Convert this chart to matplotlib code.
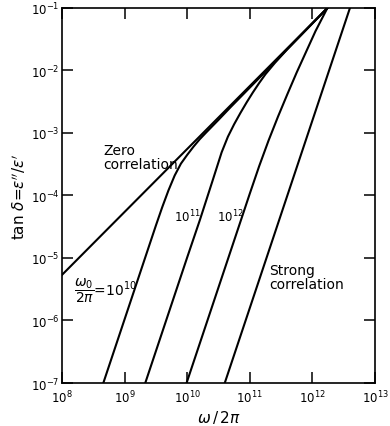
import numpy as np
import matplotlib
matplotlib.use("Agg")
import matplotlib.pyplot as plt

# in decades (log10 of omega/2pi, log10 of tan delta)
zero_f = [8.0, 12.24]
zero_tan = [-5.27, -1.0]

strong_f = [10.60, 12.60]
strong_tan = [-7.0, -1.0]

w10_f = [8.66, 9.00, 9.30, 9.50, 9.60, 9.70, 9.80, 9.90, 10.00, 10.10, 10.20, 10.30, 10.50, 10.70, 11.20, 12.24]
w10_tan = [-7.0, -5.98, -5.08, -4.48, -4.19, -3.92, -3.68, -3.49, -3.35, -3.22, -3.10, -2.995, -2.79, -2.58, -2.07, -1.0]

w11_f = [9.33, 9.70, 10.00, 10.20, 10.40, 10.55, 10.65, 10.75, 10.85, 10.95, 11.05, 11.15, 11.25, 11.40, 11.60, 12.24]
w11_tan = [-7.0, -5.89, -4.99, -4.40, -3.78, -3.31, -3.06, -2.86, -2.68, -2.51, -2.35, -2.20, -2.06, -1.88, -1.66, -1.0]

w12_f = [9.99, 10.40, 10.70, 11.00, 11.15, 11.30, 11.45, 11.60, 11.75, 11.90, 12.05, 12.24]
w12_tan = [-7.0, -5.77, -4.87, -3.97, -3.53, -3.12, -2.74, -2.38, -2.03, -1.70, -1.37, -1.0]

xticks = [1e8, 1e9, 1e10, 1e11, 1e12, 1e13]
xticklabels = ["$10^{8}$", "$10^{9}$", "$10^{10}$", "$10^{11}$", "$10^{12}$", "$10^{13}$"]
yticks = [1e-7, 1e-6, 1e-5, 1e-4, 1e-3, 1e-2, 1e-1]
yticklabels = ["$10^{-7}$", "$10^{-6}$", "$10^{-5}$", "$10^{-4}$", "$10^{-3}$", "$10^{-2}$", "$10^{-1}$"]

plt.rcParams["font.family"] = "DejaVu Sans"
plt.rcParams["mathtext.fontset"] = "dejavusans"

fig = plt.figure(figsize=(3.9, 4.27), dpi=100)
ax = fig.add_axes([0.159, 0.1007, 0.8025, 0.8783])

curves = [(zero_f, zero_tan), (strong_f, strong_tan),
          (w10_f, w10_tan), (w11_f, w11_tan), (w12_f, w12_tan)]
for f, t in curves:
    ax.plot(10**np.array(f), 10**np.array(t), color="k", lw=1.5,
            solid_joinstyle="round")

ax.set_xscale("log")
ax.set_yscale("log")
ax.set_xlim(1e8, 1e13)
ax.set_ylim(1e-7, 1e-1)

ax.set_xticks(xticks)
ax.set_xticklabels(xticklabels)
ax.set_yticks(yticks)
ax.set_yticklabels(yticklabels)
ax.minorticks_off()
ax.tick_params(which="major", direction="in", length=8, width=1.1,
               top=True, right=True, labelsize=8.5)
ax.tick_params(axis="y", pad=2)
ax.tick_params(axis="x", pad=4)
for s in ax.spines.values():
    s.set_linewidth(1.2)

ax.set_xlabel(r"$\omega\,/\,2\pi$", fontsize=11, labelpad=2)
ax.set_ylabel(r"tan $\delta$=$\varepsilon''/\varepsilon'$", fontsize=11, labelpad=2)

ax.text(10**8.655, 10**-3.38, "Zero\ncorrelation", fontsize=10,
        ha="left", va="center", linespacing=1.0)
ax.text(10**11.307, 10**-5.30, "Strong\ncorrelation", fontsize=10,
        ha="left", va="center", linespacing=1.0)
ax.text(10**9.997, 10**-4.33, "$10^{11}$", fontsize=8.5, ha="center", va="center")
ax.text(10**10.684, 10**-4.33, "$10^{12}$", fontsize=8.5, ha="center", va="center")
ax.text(10**8.70, 10**-5.5, r"$\dfrac{\omega_0}{2\pi}$=$10^{10}$", fontsize=10,
        ha="center", va="center")

fig.savefig("out.png", dpi=100)
